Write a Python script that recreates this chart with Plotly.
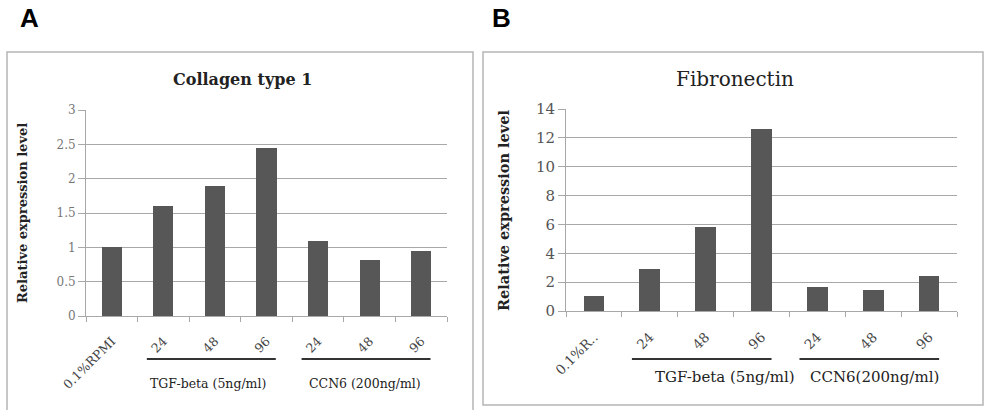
import plotly.graph_objects as go

# ---- data ----
tick_labels_a = ["0.1%RPMI", "24", "48", "96", "24", "48", "96"]
tick_labels_b = ["0.1%R..", "24", "48", "96", "24", "48", "96"]
collagen = [1.0, 1.6, 1.9, 2.44, 1.09, 0.82, 0.95]
fibronectin = [1.05, 2.9, 5.8, 12.6, 1.68, 1.45, 2.43]
groups = [("TGF-beta (5ng/ml)", 1, 3), ("CCN6 (200ng/ml)", 4, 6)]
groups_b = [("TGF-beta (5ng/ml)", 1, 3), ("CCN6(200ng/ml)", 4, 6)]
y_title = "Relative expression level"

W, H = 985, 410
SERIF = "DejaVu Serif, Liberation Serif, serif"
BAR = "#575757"
GRID = "#a8a8a8"

def px(x):
    return x / W

def py(y):
    return 1 - y / H

fig = go.Figure()
xs = list(range(len(collagen)))
fig.add_trace(go.Bar(x=xs, y=collagen, marker=dict(color=BAR, line=dict(width=0)),
                     width=0.39, xaxis="x", yaxis="y", showlegend=False, hoverinfo="skip"))
fig.add_trace(go.Bar(x=xs, y=fibronectin, marker=dict(color=BAR, line=dict(width=0)),
                     width=0.37, xaxis="x2", yaxis="y2", showlegend=False, hoverinfo="skip"))

def xaxis(domain, labels, anchor, size, standoff):
    return dict(domain=domain, anchor=anchor, range=[-0.5, len(labels) - 0.5],
                tickmode="array", tickvals=list(range(len(labels))), ticktext=labels,
                tickangle=-45, ticks="", showgrid=False, zeroline=False,
                showline=True, linecolor=GRID, linewidth=1, automargin=False,
                ticklabelstandoff=standoff,
                tickfont=dict(family=SERIF, size=size, color="#444"),
                minor=dict(tickmode="array", tickvals=[i - 0.5 for i in range(len(labels) + 1)],
                           ticks="outside", ticklen=5, tickcolor=GRID, showgrid=False),
                fixedrange=True)

def yaxis(domain, rng, dtick, anchor, size, color):
    return dict(domain=domain, anchor=anchor, range=rng, dtick=dtick,
                showgrid=True, gridcolor=GRID, gridwidth=1, zeroline=False,
                showline=True, linecolor=GRID, linewidth=1, automargin=False,
                ticks="outside", ticklen=7, tickcolor=GRID,
                tickfont=dict(family=SERIF, size=size, color=color),
                fixedrange=True)

fig.update_layout(
    width=W, height=H, margin=dict(l=0, r=0, t=0, b=0),
    paper_bgcolor="white", plot_bgcolor="white", bargap=0,
    xaxis=xaxis([px(86), px(447)], tick_labels_a, "y", 12.5, 12),
    yaxis=yaxis([py(316), py(110)], [0, 3], 0.5, "x", 12, "#777"),
    xaxis2=xaxis([px(566), px(957)], tick_labels_b, "y2", 13.5, 12),
    yaxis2=yaxis([py(311), py(109)], [0, 14], 2, "x2", 15, "#555"),
)

shapes = [
    dict(type="rect", xref="paper", yref="paper", x0=px(7), x1=px(473), y0=-0.05, y1=py(52),
         line=dict(color="#b5b5b5", width=1.5), fillcolor="rgba(0,0,0,0)", layer="below"),
    dict(type="rect", xref="paper", yref="paper", x0=px(483), x1=px(983), y0=py(405), y1=py(52),
         line=dict(color="#b5b5b5", width=1.5), fillcolor="rgba(0,0,0,0)", layer="below"),
]
annotations = [
    dict(text="<b>A</b>", x=px(18), y=py(18), xref="paper", yref="paper", showarrow=False,
         xanchor="left", yanchor="middle", font=dict(family="Liberation Sans, Arial", size=26, color="black")),
    dict(text="<b>B</b>", x=px(490), y=py(18), xref="paper", yref="paper", showarrow=False,
         xanchor="left", yanchor="middle", font=dict(family="Liberation Sans, Arial", size=26, color="black")),
    dict(text="<b>Collagen type 1</b>", x=px(242), y=py(80), xref="paper", yref="paper", showarrow=False,
         xanchor="center", yanchor="middle", font=dict(family=SERIF, size=16, color="#222")),
    dict(text="Fibronectin", x=px(735), y=py(79), xref="paper", yref="paper", showarrow=False,
         xanchor="center", yanchor="middle", font=dict(family=SERIF, size=20, color="#222")),
    dict(text="<b>" + y_title + "</b>", x=px(22), y=py(213), xref="paper", yref="paper",
         showarrow=False, textangle=-90, xanchor="center", yanchor="middle",
         font=dict(family=SERIF, size=13, color="#222")),
    dict(text="<b>" + y_title + "</b>", x=px(503), y=py(210), xref="paper", yref="paper",
         showarrow=False, textangle=-90, xanchor="center", yanchor="middle",
         font=dict(family=SERIF, size=14.5, color="#222")),
]

label_shift = {"x": [-7, -5], "x2": [19, 1]}
for (xa, grp, line_y, lab_y, fsize) in [("x", groups, 359, 383, 12.5), ("x2", groups_b, 359, 377, 15)]:
    for k, (name, i0, i1) in enumerate(grp):
        shapes.append(dict(type="line", xref=xa, yref="paper", x0=i0 - 0.32, x1=i1 + 0.18,
                           y0=py(line_y), y1=py(line_y), line=dict(color="#333", width=2)))
        annotations.append(dict(text=name, x=(i0 + i1) / 2, y=py(lab_y), xref=xa, yref="paper",
                                xshift=label_shift[xa][k],
                                showarrow=False, xanchor="center", yanchor="middle",
                                font=dict(family=SERIF, size=fsize, color="#222")))

fig.update_layout(shapes=shapes, annotations=annotations)
fig.write_html("out.html", config={"displayModeBar": False},
               post_script="document.body.style.margin='0';")
